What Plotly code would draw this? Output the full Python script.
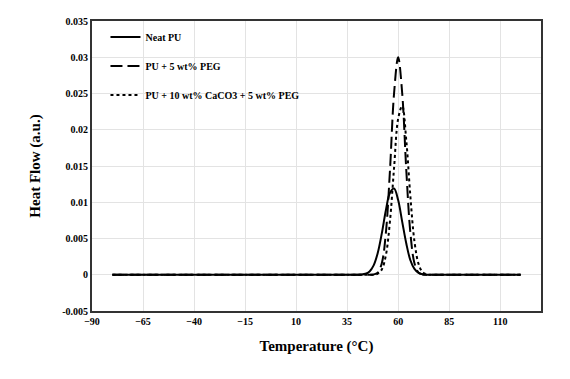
import plotly.graph_objects as go

# Temperature (°C) sample points
temp = [-80, 38, 40, 42, 44, 46, 48, 50, 52, 54, 56, 58, 60, 62, 64, 66, 68, 70, 72, 74, 76, 78, 80, 120]

# Heat flow (a.u.)
neat_pu = [0, 0, 0.00001, 0.00003, 0.00013, 0.00046, 0.0013, 0.0030, 0.0057, 0.0089, 0.0113, 0.0119,
           0.0103, 0.0073, 0.0043, 0.0020, 0.0008, 0.00025, 0.00007, 0, 0, 0, 0, 0]
pu_peg = [0, 0, 0, 0, 0, 0, 0.00004, 0.0003, 0.0016, 0.0058, 0.0144, 0.0250,
          0.0300, 0.0250, 0.0144, 0.0058, 0.0016, 0.0003, 0.00004, 0, 0, 0, 0, 0]
pu_caco3_peg = [0, 0, 0, 0, 0, 0, 0, 0.00015, 0.00073, 0.0027, 0.0074, 0.0147,
                0.0215, 0.0233, 0.0185, 0.0108, 0.0046, 0.0015, 0.00034, 0.00006, 0, 0, 0, 0]

series_names = ["Neat PU", "PU + 5 wt% PEG", "PU + 10 wt% CaCO3 + 5 wt% PEG"]

x_ticks = [-90, -65, -40, -15, 10, 35, 60, 85, 110]
y_ticks = [-0.005, 0, 0.005, 0.01, 0.015, 0.02, 0.025, 0.03, 0.035]
y_ticktext = ["-0.005", "0", "0.005", "0.01", "0.015", "0.02", "0.025", "0.03", "0.035"]

font_family = "Liberation Serif"

fig = go.Figure()
styles = ["solid", "12px,5px", "dot"]
for i, (name, ys) in enumerate(zip(series_names, [neat_pu, pu_peg, pu_caco3_peg])):
    fig.add_trace(go.Scatter(
        x=temp, y=ys, mode="lines", name=name, legendgroup=str(i),
        line=dict(color="black", width=2, dash=styles[i], shape="spline", smoothing=1.0),
    ))

fig.update_layout(
    width=570, height=379,
    margin=dict(l=92, r=29, t=21, b=68),
    paper_bgcolor="white", plot_bgcolor="white",
    font=dict(family=font_family, color="black"),
    showlegend=True,
    legend=dict(
        x=0.03, y=0.995, xanchor="left", yanchor="top",
        bgcolor="rgba(0,0,0,0)", tracegroupgap=10,
        font=dict(family=font_family, size=10, color="black", weight="bold"),
        itemwidth=30,
    ),
    xaxis=dict(
        range=[-90, 130], tickvals=x_ticks, ticks="",
        showgrid=True, gridcolor="#e3e3e3", gridwidth=1,
        zeroline=False, showline=True, linecolor="#333", linewidth=2, mirror=True,
        tickfont=dict(family=font_family, size=10, weight="bold"),
        title=dict(text="Temperature (°C)", font=dict(family=font_family, size=15, weight="bold"), standoff=14),
    ),
    yaxis=dict(
        range=[-0.005, 0.035], tickvals=y_ticks, ticktext=y_ticktext, ticks="",
        showgrid=True, gridcolor="#e3e3e3", gridwidth=1,
        zeroline=False, showline=True, linecolor="#333", linewidth=2, mirror=True,
        tickfont=dict(family=font_family, size=10, weight="bold"),
        title=dict(text="Heat Flow (a.u.)", font=dict(family=font_family, size=15, weight="bold"), standoff=18),
    ),
)

fig.write_html("out.html")
